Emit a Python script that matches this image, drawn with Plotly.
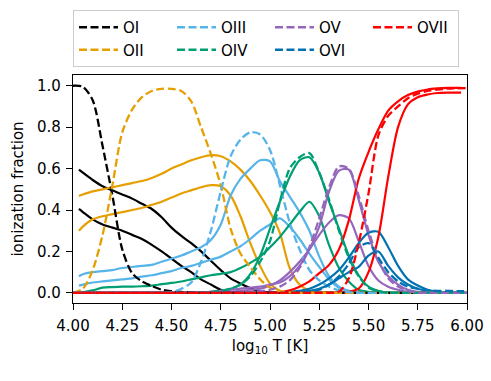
import plotly.graph_objects as go

# temperature grid (log10 T); solid-model curves are sampled 4.03 .. 5.97
T_dash = [4.00, 4.05, 4.10, 4.15, 4.20, 4.25, 4.30, 4.35, 4.40, 4.45,
          4.50, 4.55, 4.60, 4.65, 4.70, 4.75, 4.80, 4.85, 4.90, 4.95,
          5.00, 5.05, 5.10, 5.15, 5.20, 5.25, 5.30, 5.35, 5.40, 5.45,
          5.50, 5.55, 5.60, 5.65, 5.70, 5.75, 5.80, 5.85, 5.90, 5.95, 6.00]
T_solid = [4.03] + T_dash[1:-1] + [5.97]

ions = ["OI", "OII", "OIII", "OIV", "OV", "OVI", "OVII"]
colors = ["black", "#E69F00", "#56B4E9", "#009E73", "#9467bd", "#0072B2", "red"]

# equilibrium (dashed) ionization fractions
OI_eq = [1.0, 0.995, 0.93, 0.71, 0.47, 0.21, 0.095, 0.055, 0.033, 0.015,
         0.008, 0.004, 0.002, 0, 0, 0, 0, 0, 0, 0,
         0, 0, 0, 0, 0, 0, 0, 0, 0, 0,
         0, 0, 0, 0, 0, 0, 0, 0, 0, 0, 0]
OII_eq = [0.0, 0.02, 0.11, 0.28, 0.52, 0.775, 0.885, 0.945, 0.975, 0.985,
          0.985, 0.975, 0.925, 0.80, 0.67, 0.52, 0.31, 0.19, 0.125, 0.065,
          0.025, 0.008, 0.002, 0, 0, 0, 0, 0, 0, 0,
          0, 0, 0, 0, 0, 0, 0, 0, 0, 0, 0]
OIII_eq = [0, 0, 0, 0, 0, 0, 0, 0, 0, 0,
           0.003, 0.02, 0.05, 0.15, 0.30, 0.49, 0.66, 0.74, 0.775, 0.765,
           0.69, 0.52, 0.34, 0.21, 0.11, 0.06, 0.03, 0.012, 0.004, 0,
           0, 0, 0, 0, 0, 0, 0, 0, 0, 0, 0]
OIV_eq = [0, 0, 0, 0, 0, 0, 0, 0, 0, 0,
          0, 0, 0, 0, 0.005, 0.01, 0.02, 0.04, 0.08, 0.15,
          0.25, 0.44, 0.60, 0.655, 0.675, 0.58, 0.45, 0.30, 0.17, 0.08,
          0.025, 0.008, 0, 0, 0, 0, 0, 0, 0, 0, 0]
OV_eq = [0, 0, 0, 0, 0, 0, 0, 0, 0, 0,
         0, 0, 0, 0, 0, 0, 0, 0.002, 0.005, 0.008,
         0.015, 0.03, 0.06, 0.12, 0.22, 0.36, 0.51, 0.61, 0.60, 0.47,
         0.30, 0.16, 0.07, 0.03, 0.01, 0, 0, 0, 0, 0, 0]
OVI_eq = [0, 0, 0, 0, 0, 0, 0, 0, 0, 0,
          0, 0, 0, 0, 0, 0, 0, 0, 0, 0,
          0, 0, 0, 0, 0.005, 0.015, 0.04, 0.08, 0.14, 0.22,
          0.24, 0.17, 0.10, 0.055, 0.03, 0.02, 0.013, 0.01, 0.01, 0.008, 0.008]
OVII_eq = [0, 0, 0, 0, 0, 0, 0, 0, 0, 0,
           0, 0, 0, 0, 0, 0, 0, 0, 0, 0,
           0, 0, 0, 0, 0, 0, 0, 0.005, 0.07, 0.24,
           0.48, 0.76, 0.855, 0.90, 0.94, 0.962, 0.975, 0.982, 0.986, 0.988, 0.989]

# model A (solid, upper set)
OI_a = [0.595, 0.58, 0.545, 0.515, 0.495, 0.475, 0.455, 0.43, 0.405, 0.365,
        0.315, 0.275, 0.24, 0.20, 0.155, 0.11, 0.07, 0.045, 0.022, 0.007,
        0.002, 0, 0, 0, 0, 0, 0, 0, 0, 0,
        0, 0, 0, 0, 0, 0, 0, 0, 0, 0, 0]
OII_a = [0.468, 0.475, 0.49, 0.50, 0.51, 0.52, 0.53, 0.54, 0.555, 0.575,
         0.60, 0.62, 0.64, 0.655, 0.665, 0.66, 0.635, 0.595, 0.54, 0.47,
         0.39, 0.29, 0.12, 0.04, 0.01, 0, 0, 0, 0, 0,
         0, 0, 0, 0, 0, 0, 0, 0, 0, 0, 0]
OIII_a = [0.08, 0.09, 0.10, 0.105, 0.11, 0.12, 0.125, 0.13, 0.135, 0.15,
          0.165, 0.18, 0.20, 0.22, 0.255, 0.33, 0.47, 0.55, 0.60, 0.64,
          0.635, 0.54, 0.465, 0.39, 0.30, 0.175, 0.08, 0.03, 0.01, 0,
          0, 0, 0, 0, 0, 0, 0, 0, 0, 0, 0]
OIV_a = [0, 0, 0, 0, 0, 0, 0, 0, 0, 0,
         0, 0, 0, 0, 0.005, 0.01, 0.02, 0.04, 0.09, 0.18,
         0.31, 0.44, 0.56, 0.64, 0.655, 0.58, 0.44, 0.31, 0.18, 0.085,
         0.03, 0.01, 0, 0, 0, 0, 0, 0, 0, 0, 0]
OV_a = [0, 0, 0, 0, 0, 0, 0, 0, 0, 0,
        0, 0, 0, 0, 0.005, 0.01, 0.015, 0.02, 0.025, 0.03,
        0.04, 0.05, 0.08, 0.13, 0.21, 0.32, 0.49, 0.59, 0.595, 0.45,
        0.28, 0.15, 0.08, 0.04, 0.015, 0.005, 0, 0, 0, 0, 0]
OVI_a = [0, 0, 0, 0, 0, 0, 0, 0, 0, 0,
         0, 0, 0, 0, 0, 0, 0, 0, 0, 0,
         0, 0, 0.005, 0.01, 0.02, 0.04, 0.07, 0.11, 0.17, 0.24,
         0.29, 0.295, 0.22, 0.13, 0.065, 0.035, 0.015, 0.005, 0, 0, 0]
OVII_a = [0, 0, 0, 0, 0, 0, 0, 0, 0, 0,
          0, 0, 0, 0, 0, 0, 0, 0, 0, 0,
          0, 0.003, 0.012, 0.03, 0.055, 0.095, 0.135, 0.21, 0.35, 0.55,
          0.68, 0.79, 0.88, 0.925, 0.955, 0.972, 0.982, 0.987, 0.99, 0.99, 0.99]

# model B (solid, lower set)
OI_b = [0.405, 0.39, 0.355, 0.33, 0.315, 0.30, 0.28, 0.26, 0.232, 0.20,
        0.165, 0.13, 0.10, 0.065, 0.04, 0.015, 0.005, 0, 0, 0,
        0, 0, 0, 0, 0, 0, 0, 0, 0, 0,
        0, 0, 0, 0, 0, 0, 0, 0, 0, 0, 0]
OII_b = [0.30, 0.32, 0.355, 0.37, 0.38, 0.39, 0.40, 0.41, 0.425, 0.44,
         0.46, 0.48, 0.495, 0.51, 0.52, 0.515, 0.47, 0.37, 0.24, 0.13,
         0.045, 0.01, 0, 0, 0, 0, 0, 0, 0, 0,
         0, 0, 0, 0, 0, 0, 0, 0, 0, 0, 0]
OIII_b = [0.035, 0.04, 0.05, 0.055, 0.06, 0.065, 0.07, 0.078, 0.085, 0.095,
          0.105, 0.12, 0.13, 0.145, 0.16, 0.175, 0.20, 0.225, 0.26, 0.30,
          0.33, 0.36, 0.32, 0.26, 0.19, 0.125, 0.065, 0.025, 0.008, 0,
          0, 0, 0, 0, 0, 0, 0, 0, 0, 0, 0]
OIV_b = [0, 0.003, 0.012, 0.025, 0.028, 0.03, 0.03, 0.032, 0.035, 0.042,
         0.048, 0.055, 0.065, 0.075, 0.085, 0.092, 0.10, 0.12, 0.145, 0.175,
         0.22, 0.27, 0.33, 0.39, 0.44, 0.37, 0.23, 0.12, 0.055, 0.015,
         0.005, 0, 0, 0, 0, 0, 0, 0, 0, 0, 0]
OV_b = [0, 0, 0, 0, 0, 0, 0, 0, 0, 0,
        0, 0, 0, 0, 0, 0, 0.005, 0.01, 0.015, 0.02,
        0.035, 0.06, 0.10, 0.15, 0.21, 0.28, 0.34, 0.375, 0.36, 0.25,
        0.13, 0.06, 0.03, 0.015, 0.005, 0, 0, 0, 0, 0, 0]
OVI_b = [0, 0, 0, 0, 0, 0, 0, 0, 0, 0,
         0, 0, 0, 0, 0, 0, 0, 0, 0, 0,
         0, 0, 0, 0.005, 0.01, 0.02, 0.04, 0.07, 0.10, 0.125,
         0.18, 0.20, 0.13, 0.075, 0.04, 0.02, 0.01, 0, 0, 0, 0]
OVII_b = [0, 0, 0, 0, 0, 0, 0, 0, 0, 0,
          0, 0, 0, 0, 0, 0, 0, 0, 0, 0,
          0, 0, 0, 0, 0, 0, 0, 0, 0.005, 0.02,
          0.10, 0.27, 0.56, 0.80, 0.91, 0.945, 0.958, 0.965, 0.967, 0.967, 0.967]

eq = [OI_eq, OII_eq, OIII_eq, OIV_eq, OV_eq, OVI_eq, OVII_eq]
mod_a = [OI_a, OII_a, OIII_a, OIV_a, OV_a, OVI_a, OVII_a]
mod_b = [OI_b, OII_b, OIII_b, OIV_b, OV_b, OVI_b, OVII_b]

# legend is filled row by row, reference is column by column (2 rows)
legend_rank = {"OI": 1, "OIII": 2, "OV": 3, "OVII": 4, "OII": 5, "OIV": 6, "OVI": 7}

fig = go.Figure()

for ion, c, ya, yb in zip(ions, colors, mod_a, mod_b):
    for y in (ya, yb):
        fig.add_trace(go.Scatter(
            x=T_solid, y=y, mode="lines", showlegend=False,
            line=dict(color=c, width=2.2, shape="spline", smoothing=0.8),
        ))

for ion, c, y in zip(ions, colors, eq):
    fig.add_trace(go.Scatter(
        x=T_dash, y=y, mode="lines", name=ion, legendrank=legend_rank[ion],
        legendwidth=36 if ion == "OVII" else None,
        line=dict(color=c, width=2.3, dash="8px,3.5px", shape="spline", smoothing=0.8),
    ))

fnt = dict(family="DejaVu Sans", size=15, color="black")
axis_style = dict(
    showline=True, mirror=True, linecolor="black", linewidth=1.2,
    ticks="outside", ticklen=6, tickwidth=1.2, tickcolor="black",
    showgrid=False, zeroline=False, tickfont=fnt,
)

fig.update_layout(
    width=491, height=381,
    margin=dict(l=73, r=24, t=75, b=78, autoexpand=False),
    paper_bgcolor="white", plot_bgcolor="white",
    font=fnt,
    xaxis=dict(range=[4, 6], tick0=4, dtick=0.25, tickformat=".2f", ticklabelstandoff=3,
               title=dict(text="log<sub>10</sub> T [K]", font=fnt, standoff=6), **axis_style),
    yaxis=dict(range=[-0.049, 1.052], tick0=0, dtick=0.2, tickformat=".1f", ticklabelstandoff=2,
               title=dict(text="ionization fraction", font=fnt, standoff=9), **axis_style),
    legend=dict(orientation="h", x=0, xanchor="left", y=1.285, yanchor="top",
                itemwidth=39, entrywidth=44, entrywidthmode="pixels",
                bordercolor="#cccccc", borderwidth=1, bgcolor="white",
                font=fnt, tracegroupgap=0),
)

# the page's default body margin would shift the figure by 8 px
fig.write_html("out.html", config={"displayModeBar": False},
               post_script="document.body.style.margin = '0';")
